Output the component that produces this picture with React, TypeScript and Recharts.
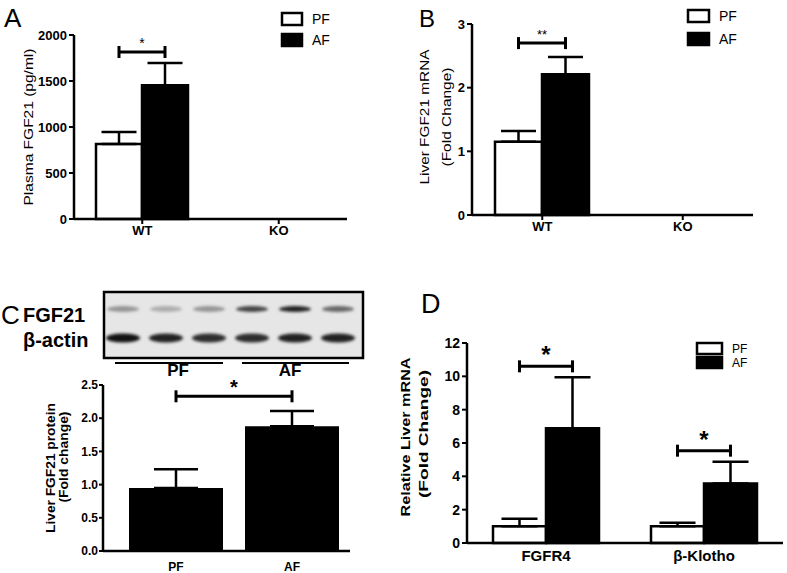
import React from "react";
import { Bar, BarChart, ErrorBar, LabelList, ReferenceLine, XAxis, YAxis } from "recharts";

const FONT = '"Liberation Sans", Arial, Helvetica, sans-serif';

// A: plasma FGF21 (pg/ml)
const groupsA = ["WT", "KO"];
const pfA = [815, 0];
const afA = [1455, 0];
const pfSemA = [131, 0];
const afSemA = [241, 0];
const ticksA = [0, 500, 1000, 1500, 2000];
const sigLevelA = [1815, null];
const sigA = ["*", ""];

// B: liver FGF21 mRNA (fold change)
const groupsB = ["WT", "KO"];
const pfB = [1.15, 0];
const afB = [2.21, 0];
const pfSemB = [0.17, 0];
const afSemB = [0.27, 0];
const ticksB = [0, 1, 2, 3];
const sigLevelB = [2.7, null];
const sigB = ["**", ""];

// C: liver FGF21 protein (fold change)
const groupsC = ["PF", "AF"];
const proteinC = [0.95, 1.88];
const semC = [0.28, 0.23];
const ticksC = [0, 0.5, 1, 1.5, 2, 2.5];
const sigLevelC = 2.33;
const sigC = "*";

// C: western blot band intensities (0..1), three PF lanes then three AF lanes
const blotLanes = ["PF", "PF", "PF", "AF", "AF", "AF"];
const fgf21Band = [0.35, 0.25, 0.35, 0.7, 0.85, 0.55];
const actinBand = [0.92, 0.85, 0.8, 0.8, 0.85, 0.85];

// D: relative liver mRNA (fold change)
const groupsD = ["FGFR4", "β-Klotho"];
const pfD = [1.0, 1.0];
const afD = [6.88, 3.57];
const pfSemD = [0.46, 0.22];
const afSemD = [3.07, 1.31];
const ticksD = [0, 2, 4, 6, 8, 10, 12];
const sigLevelD = [10.6, 5.54];
const sigD = ["*", "*"];

const seriesNames = ["PF", "AF"];
const seriesFill = ["#fff", "#000"];

type Title = { lines: string[]; cx: number[]; cy: number[]; size: number; weight: number; lengths: number[] };

const rotatedTitle = (t: Title) => () => (
  <g>
    {t.lines.map((s, i) => (
      <text
        key={s}
        transform={`translate(${t.cx[i]},${t.cy[i]}) rotate(-90)`}
        textAnchor="middle"
        dominantBaseline="central"
        fontSize={t.size}
        fontWeight={t.weight}
        fill="#000"
        textLength={t.lengths[i]}
        lengthAdjust="spacingAndGlyphs"
      >
        {s}
      </text>
    ))}
  </g>
);

function bracket(x1: number, x2: number, y: number, star: string, size: number, weight: number, lift: number) {
  return (
    <g>
      <line x1={x1} x2={x2} y1={y} y2={y} stroke="#000" strokeWidth={3} />
      <line x1={x1} x2={x1} y1={y - 6} y2={y + 6} stroke="#000" strokeWidth={3} />
      <line x1={x2} x2={x2} y1={y - 6} y2={y + 6} stroke="#000" strokeWidth={3} />
      <text x={(x1 + x2) / 2} y={y - lift} textAnchor="middle" fontSize={size} fontWeight={weight} fill="#000">
        {star}
      </text>
    </g>
  );
}

// drawn on the AF bar: bracket goes from the PF bar centre to the AF bar centre
const sigLabel =
  (levels: (number | null)[], stars: string[], values: number[], size: number, weight: number, lift: number) =>
  (props: any) => {
    const i = props.index;
    const level = levels[i];
    if (level == null || !values[i]) return null;
    const vb = props.viewBox && props.viewBox.width != null ? props.viewBox : props;
    const { x, y, width, height } = vb;
    const base = y + height;
    const yy = base - (level / values[i]) * height;
    return bracket(x - width / 2, x + width / 2, yy, stars[i], size, weight, lift);
  };

type GroupedProps = {
  groups: string[];
  pf: number[];
  af: number[];
  pfSem: number[];
  afSem: number[];
  ticks: number[];
  levels: (number | null)[];
  stars: string[];
  width: number;
  height: number;
  margin: { top: number; right: number; bottom: number; left: number };
  yWidth: number;
  gap: number;
  cap: number;
  tickFont: number;
  catFont: number;
  xTicks: boolean;
  starSize: number;
  starWeight: number;
  starLift: number;
  title: Title;
};

function GroupedPanel(p: GroupedProps) {
  const rows = p.groups.map((g, i) => ({
    group: g,
    pf: p.pf[i],
    af: p.af[i],
    pfErr: [0, p.pfSem[i]],
    afErr: [0, p.afSem[i]],
  }));
  return (
    <BarChart width={p.width} height={p.height} data={rows} margin={p.margin} barCategoryGap={p.gap} barGap={0}>
      <XAxis
        dataKey="group"
        height={25}
        axisLine={{ stroke: "#000", strokeWidth: 2.5 }}
        tickLine={p.xTicks ? { stroke: "#000", strokeWidth: 2 } : false}
        tickSize={5}
        tick={{ fill: "#000", fontSize: p.catFont, fontWeight: 700 }}
      />
      <YAxis
        width={p.yWidth}
        domain={[p.ticks[0], p.ticks[p.ticks.length - 1]]}
        ticks={p.ticks}
        interval={0}
        axisLine={{ stroke: "#000", strokeWidth: 2.5 }}
        tickLine={{ stroke: "#000", strokeWidth: 2 }}
        tickSize={5}
        tick={{ fill: "#000", fontSize: p.tickFont, fontWeight: 700 }}
        label={rotatedTitle(p.title)}
      />
      <Bar dataKey="pf" fill={seriesFill[0]} stroke="#000" strokeWidth={2.5} isAnimationActive={false}>
        <ErrorBar dataKey="pfErr" width={p.cap} stroke="#000" strokeWidth={2.5} direction="y" />
      </Bar>
      <Bar dataKey="af" fill={seriesFill[1]} stroke="#000" strokeWidth={2.5} isAnimationActive={false}>
        <ErrorBar dataKey="afErr" width={p.cap} stroke="#000" strokeWidth={2.5} direction="y" />
        <LabelList content={sigLabel(p.levels, p.stars, p.af, p.starSize, p.starWeight, p.starLift)} />
      </Bar>
    </BarChart>
  );
}

function PanelC() {
  const rows = groupsC.map((g, i) => ({ group: g, v: proteinC[i], err: [0, semC[i]] }));
  return (
    <BarChart width={370} height={203} data={rows} margin={{ top: 15, right: 20, bottom: 2, left: 0 }} barCategoryGap={11}>
      <XAxis
        dataKey="group"
        height={20}
        padding={{ left: 15, right: 0 }}
        axisLine={{ stroke: "#000", strokeWidth: 2.5 }}
        tickLine={false}
        tickMargin={5}
        tick={{ fill: "#000", fontSize: 12, fontWeight: 700 }}
      />
      <YAxis
        width={103}
        domain={[0, 2.5]}
        ticks={ticksC}
        interval={0}
        tickFormatter={(v: number) => v.toFixed(1)}
        axisLine={{ stroke: "#000", strokeWidth: 2.5 }}
        tickLine={{ stroke: "#000", strokeWidth: 2 }}
        tickSize={4}
        tickMargin={1}
        tick={{ fill: "#000", fontSize: 12, fontWeight: 700 }}
        label={rotatedTitle({
          lines: ["Liver FGF21 protein", "(Fold change)"],
          cx: [51, 64],
          cy: [98, 87],
          size: 12,
          weight: 700,
          lengths: [130, 91],
        })}
      />
      <ReferenceLine
        segment={[
          { x: groupsC[0], y: sigLevelC },
          { x: groupsC[1], y: sigLevelC },
        ]}
        shape={(s: any) => bracket(s.x1, s.x2, s.y1, sigC, 20, 700, 2)}
      />
      <Bar dataKey="v" fill="#000" isAnimationActive={false}>
        <ErrorBar dataKey="err" width={22} stroke="#000" strokeWidth={2.5} direction="y" />
      </Bar>
    </BarChart>
  );
}

function Legend2({ x, y, w, h, step, size }: { x: number; y: number; w: number; h: number; step: number; size: number }) {
  return (
    <g>
      {seriesNames.map((name, i) => (
        <g key={name}>
          <rect x={x} y={y + i * step} width={w} height={h} fill={seriesFill[i]} stroke="#000" strokeWidth={2.5} />
          <text x={x + w + 10} y={y + i * step + h / 2} dominantBaseline="central" fontSize={size} fill="#000">
            {name}
          </text>
        </g>
      ))}
    </g>
  );
}

function Blot() {
  const left = 104;
  const top = 292;
  const w = 259;
  const h = 66;
  const lane = 43;
  return (
    <g>
      <defs>
        <filter id="blur" x="-50%" y="-100%" width="200%" height="300%">
          <feGaussianBlur stdDeviation="1.6" />
        </filter>
      </defs>
      <rect x={left} y={top} width={w} height={h} fill="#e6e6e6" stroke="#000" strokeWidth={2.5} />
      {blotLanes.map((g, i) => (
        <g key={i} filter="url(#blur)">
          <ellipse cx={left + 19 + i * lane} cy={top + 17} rx={16} ry={3} fill="#000" opacity={fgf21Band[i]} />
          <ellipse cx={left + 19 + i * lane} cy={top + 46} rx={17} ry={4.5} fill="#000" opacity={actinBand[i]} />
        </g>
      ))}
      <line x1={115} x2={223} y1={363} y2={363} stroke="#000" strokeWidth={2} />
      <line x1={242} x2={349} y1={363} y2={363} stroke="#000" strokeWidth={2} />
      <text x={178} y={370} textAnchor="middle" dominantBaseline="central" fontSize={17} fontWeight={700}>
        PF
      </text>
      <text x={290} y={370} textAnchor="middle" dominantBaseline="central" fontSize={17} fontWeight={700}>
        AF
      </text>
      <text x={23} y={315} dominantBaseline="central" fontSize={20} fontWeight={700}>
        FGF21
      </text>
      <text x={23} y={340} dominantBaseline="central" fontSize={20} fontWeight={700}>
        β-actin
      </text>
    </g>
  );
}

export default function App() {
  return (
    <div
      style={{
        position: "absolute",
        left: 0,
        top: 0,
        width: 787,
        height: 573,
        background: "#fff",
        fontFamily: FONT,
        overflow: "hidden",
      }}
    >
      <div style={{ position: "absolute", left: 0, top: 0 }}>
        <GroupedPanel
          groups={groupsA}
          pf={pfA}
          af={afA}
          pfSem={pfSemA}
          afSem={afSemA}
          ticks={ticksA}
          levels={sigLevelA}
          stars={sigA}
          width={360}
          height={250}
          margin={{ top: 35, right: 13, bottom: 6, left: 0 }}
          yWidth={74}
          gap={22}
          cap={17.5}
          tickFont={13}
          catFont={13}
          xTicks={true}
          starSize={14}
          starWeight={400}
          starLift={4}
          title={{ lines: ["Plasma FGF21 (pg/ml)"], cx: [28], cy: [127], size: 13, weight: 400, lengths: [157] }}
        />
      </div>
      <div style={{ position: "absolute", left: 390, top: 0 }}>
        <GroupedPanel
          groups={groupsB}
          pf={pfB}
          af={afB}
          pfSem={pfSemB}
          afSem={afSemB}
          ticks={ticksB}
          levels={sigLevelB}
          stars={sigB}
          width={380}
          height={250}
          margin={{ top: 24, right: 17, bottom: 10, left: 0 }}
          yWidth={82}
          gap={23}
          cap={17.5}
          tickFont={13}
          catFont={13}
          xTicks={true}
          starSize={13}
          starWeight={400}
          starLift={4}
          title={{
            lines: ["Liver FGF21  mRNA", "(Fold Change)"],
            cx: [34, 56],
            cy: [117, 117],
            size: 13,
            weight: 400,
            lengths: [135, 99],
          }}
        />
      </div>
      <div style={{ position: "absolute", left: 0, top: 370 }}>
        <PanelC />
      </div>
      <div style={{ position: "absolute", left: 390, top: 280 }}>
        <GroupedPanel
          groups={groupsD}
          pf={pfD}
          af={afD}
          pfSem={pfSemD}
          afSem={afSemD}
          ticks={ticksD}
          levels={sigLevelD}
          stars={sigD}
          width={397}
          height={293}
          margin={{ top: 63, right: 4, bottom: 5, left: 0 }}
          yWidth={77}
          gap={26}
          cap={18}
          tickFont={14}
          catFont={15}
          xTicks={false}
          starSize={24}
          starWeight={700}
          starLift={3}
          title={{
            lines: ["Relative Liver mRNA", "(Fold Change)"],
            cx: [15, 33],
            cy: [157, 154],
            size: 13,
            weight: 700,
            lengths: [159, 128],
          }}
        />
      </div>
      <svg
        width={787}
        height={573}
        style={{ position: "absolute", left: 0, top: 0, pointerEvents: "none", fontFamily: FONT }}
      >
        <text x={4} y={27} fontSize={26} fill="#000">A</text>
        <text x={419} y={27} fontSize={24} fill="#000">B</text>
        <text x={1} y={324} fontSize={26} fill="#000">C</text>
        <text x={421} y={313} fontSize={27} fill="#000">D</text>
        <Legend2 x={282} y={13} w={20} h={12} step={21} size={14} />
        <Legend2 x={688} y={10} w={21} h={12} step={23} size={14} />
        <Legend2 x={697} y={343} w={25} h={11} step={14} size={12} />
        <Blot />
      </svg>
    </div>
  );
}
